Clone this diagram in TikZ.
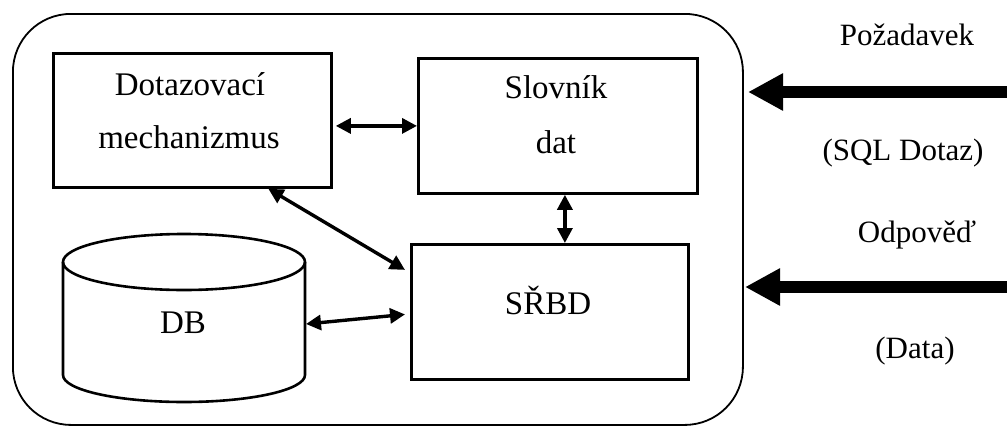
\documentclass[tikz,border=0pt]{standalone}
\usepackage{fontspec}
\setmainfont{Liberation Serif}
\usetikzlibrary{arrows.meta}
\begin{document}
\begin{tikzpicture}[x=1pt,y=-1pt,
  box/.style={draw,line width=2.8pt,inner sep=0pt,anchor=north west},
  lbl/.style={font=\fontsize{31}{31}\selectfont,anchor=base,inner sep=0pt},
  blbl/.style={font=\fontsize{33}{33}\selectfont,anchor=base,inner sep=0pt},
  link/.style={line width=3.4pt,{Triangle[length=15pt,width=15pt]}-{Triangle[length=15pt,width=15pt]}},
  big/.style={line width=12pt,-{Triangle[length=35pt,width=35pt]}}]
\useasboundingbox (0,0) rectangle (1007,426);
% outer system boundary
\node[draw,line width=1.8pt,rounded corners=58pt,minimum width=730pt,minimum height=411pt,anchor=north west,inner sep=0pt] (sys) at (12,13) {};
% boxes
\node[box,minimum width=278pt,minimum height=134pt] (dotaz) at (52,52) {};
\node[box,minimum width=279pt,minimum height=135pt] (slovnik) at (417,57) {};
\node[box,minimum width=277pt,minimum height=135pt] (srbd) at (410,243) {};
% DB cylinder
\draw[line width=2.6pt] (184,262) ellipse[x radius=121pt,y radius=28pt];
\draw[line width=2.6pt] (63,262) -- (63,375) arc[start angle=180,end angle=360,x radius=121pt,y radius=27pt] -- (305,262);
% texts
\node[blbl] (t1) at (190,95) {Dotazovací};
\node[blbl] (t2) at (189,148) {mechanizmus};
\node[blbl] (t3) at (556,98) {Slovník};
\node[blbl] (t4) at (556,153) {dat};
\node[blbl] (t5) at (548,314) {SŘBD};
\node[blbl] (db) at (183,333) {DB};
\node[lbl] (q1) at (907,45) {Požadavek};
\node[lbl] (q2) at (903,160) {(SQL Dotaz)};
\node[lbl] (q3) at (917,242) {Odpověď};
\node[lbl] (q4) at (915,358) {(Data)};
% internal links
\draw[link] ([xshift=3pt]dotaz.east |- slovnik.west) -- (slovnik.west);
\draw[link] ([xshift=7pt]slovnik.south) -- ([xshift=7pt]slovnik.south |- srbd.north);
\draw[link] ([xshift=76pt]dotaz.south) -- ([xshift=-5pt,yshift=42pt]srbd.west);
\coordinate (dbE) at (306,324);
\draw[link] (dbE) -- ([xshift=-5pt,yshift=-2.5pt]srbd.west);
% external arrows
\coordinate (reqS) at (1007,92);
\coordinate (reqE) at (748,92);
\coordinate (ansS) at (1007,287);
\coordinate (ansE) at (745,287);
\draw[big] (reqS) -- (reqE);
\draw[big] (ansS) -- (ansE);
\end{tikzpicture}
\end{document}
